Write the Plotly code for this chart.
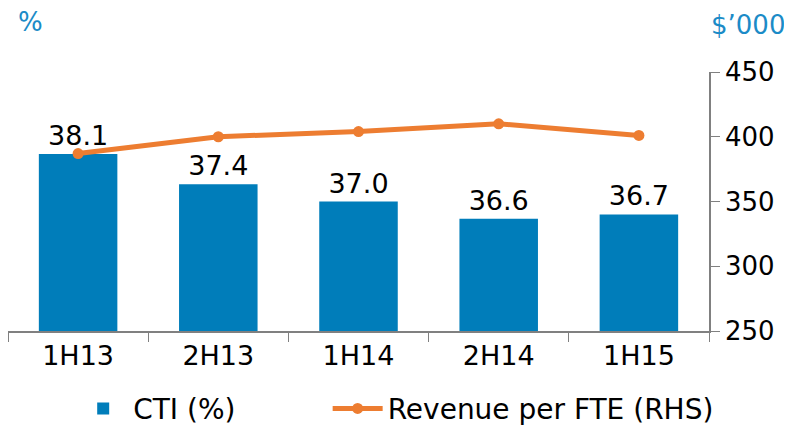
import plotly.graph_objects as go

periods = ["1H13", "2H13", "1H14", "2H14", "1H15"]
cti = [38.1, 37.4, 37.0, 36.6, 36.7]
revenue_per_fte = [387, 400, 404, 410, 401]
rhs_ticks = [250, 300, 350, 400, 450]

FONT = "DejaVu Sans, Verdana, sans-serif"
BLUE = "#007DBA"
ORANGE = "#ED7D31"

fig = go.Figure()

fig.add_trace(go.Bar(
    x=periods, y=cti, name="CTI (%)",
    marker=dict(color=BLUE, line=dict(width=0)),
    text=[f"{v:.1f}" for v in cti], textposition="outside",
    textfont=dict(size=27, color="black", family=FONT),
    cliponaxis=False, legend="legend",
))

fig.add_trace(go.Scatter(
    x=periods, y=revenue_per_fte, name="Revenue per FTE (RHS)",
    yaxis="y2", mode="lines+markers",
    line=dict(color=ORANGE, width=5),
    marker=dict(color=ORANGE, size=11),
    legend="legend2",
))

# page body adds an 8px offset, so margins are shifted to compensate
fig.update_layout(
    width=792, height=429,
    margin=dict(l=0, r=91, t=64, b=106, autoexpand=False),
    paper_bgcolor="white", plot_bgcolor="white",
    font=dict(family=FONT, size=26, color="black"),
    bargap=0.44,
    showlegend=True,
    legend=dict(orientation="h", x=0.093, xanchor="left", y=-0.30, yanchor="middle",
                font=dict(size=28), itemwidth=50),
    legend2=dict(orientation="h", x=0.456, xanchor="left", y=-0.30, yanchor="middle",
                 font=dict(size=28), itemwidth=50),
    xaxis=dict(type="category", range=[-0.5, 4.5], tickson="boundaries",
               ticks="outside", ticklen=9, tickcolor="#808080",
               showline=True, linecolor="#808080", linewidth=1.5,
               showgrid=False, tickfont=dict(size=27), automargin=False),
    yaxis=dict(range=[34, 40], visible=False, showgrid=False),
    yaxis2=dict(range=[250, 450], tickvals=rhs_ticks, overlaying="y", side="right",
                ticks="outside", ticklen=9, tickcolor="#808080",
                showline=True, linecolor="#808080", linewidth=1.5,
                showgrid=False, zeroline=False, tickfont=dict(size=26),
                automargin=False),
    annotations=[
        dict(text="%", xref="paper", yref="paper", x=0.0114, y=1.193,
             xanchor="left", yanchor="middle", showarrow=False,
             font=dict(size=26, color="#1B8BC7")),
        dict(text="$\u2019000", xref="paper", yref="paper", x=1.111, y=1.18,
             xanchor="right", yanchor="middle", showarrow=False,
             font=dict(size=26, color="#1B8BC7")),
    ],
)

fig.write_html("out.html")
